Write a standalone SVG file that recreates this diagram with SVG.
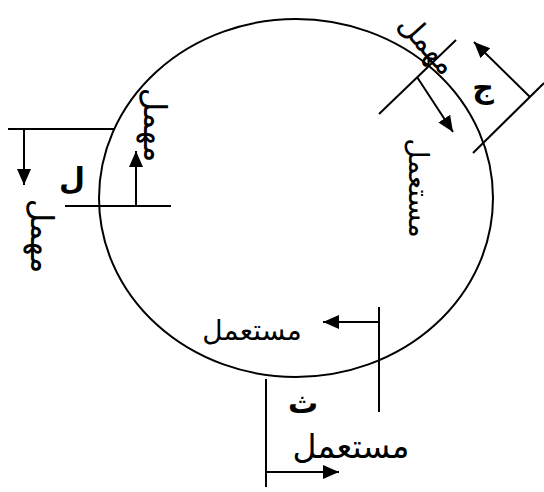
<svg xmlns="http://www.w3.org/2000/svg" width="544" height="492" viewBox="0 0 544 492">
<defs>
<marker id="ah" markerUnits="userSpaceOnUse" markerWidth="18" markerHeight="16" refX="16" refY="7" orient="auto">
<path d="M0,0 L16,7 L0,14 Z" fill="#000"/>
</marker>
<style>
.ln{stroke:#000;stroke-width:2;fill:none}
.ar{stroke:#000;stroke-width:2;fill:none;marker-end:url(#ah)}
.t{font-family:"DejaVu Sans",serif;font-size:28px;fill:#000;text-anchor:middle;dominant-baseline:central}
.m{font-size:32px}
.s{font-size:30px}
.big{font-size:33px}
.b{font-family:"DejaVu Sans",serif;font-size:30px;font-weight:bold;fill:#000;text-anchor:middle;dominant-baseline:central}
</style>
</defs>
<rect width="544" height="492" fill="#fff"/>
<g id="circle">
<ellipse cx="296" cy="198" rx="197" ry="179" class="ln"/>
</g>
<g id="connectors">
<line x1="8" y1="129" x2="115" y2="129" class="ln"/>
<line x1="24" y1="129" x2="24" y2="185" class="ar"/>
<line x1="65" y1="206" x2="171" y2="206" class="ln"/>
<line x1="136" y1="206" x2="136" y2="151" class="ar"/>
<line x1="379" y1="114" x2="456" y2="40" class="ln"/>
<line x1="417" y1="77" x2="453" y2="132" class="ar"/>
<line x1="473" y1="153" x2="544" y2="83" class="ln"/>
<line x1="530" y1="97" x2="474" y2="42" class="ar"/>
<line x1="379" y1="307" x2="379" y2="412" class="ln"/>
<line x1="379" y1="322" x2="323" y2="322" class="ar"/>
<line x1="266" y1="379" x2="266" y2="487" class="ln"/>
<line x1="266" y1="472" x2="339" y2="472" class="ar"/>
</g>
<g id="node-L">
<text class="b" x="72" y="178">ل</text>
<text class="t m" transform="translate(42,236) rotate(90)">مهمل</text>
<text class="t m" transform="translate(155,125) rotate(90)">مهمل</text>
</g>
<g id="node-J">
<text class="b" x="483" y="87">ج</text>
<text class="t s" transform="translate(428,44) rotate(48)">مهمل</text>
<text class="t" transform="translate(418,188) rotate(90)">مستعمل</text>
</g>
<g id="node-Th">
<text class="b" x="303" y="402">ث</text>
<text class="t" x="252" y="330">مستعمل</text>
<text class="t big" x="351" y="446">مستعمل</text>
</g>
</svg>
